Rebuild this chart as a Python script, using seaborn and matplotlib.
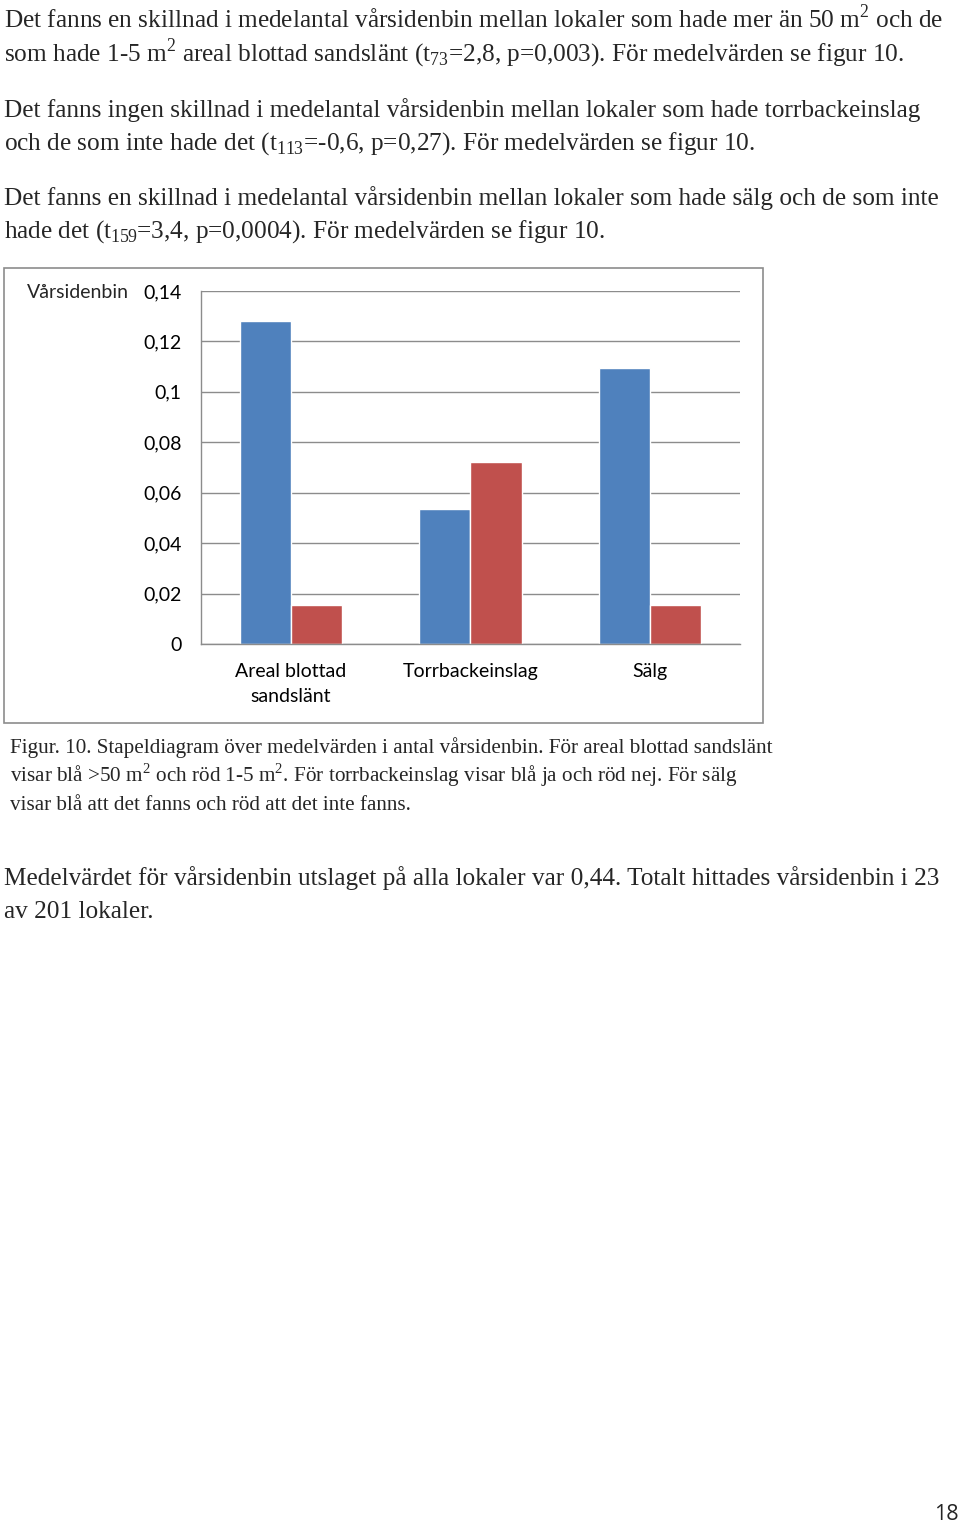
import pandas as pd
import matplotlib
matplotlib.use("Agg")
import matplotlib.pyplot as plt
from matplotlib.patches import Rectangle
from matplotlib.ticker import FuncFormatter, FixedLocator
import seaborn as sns

# Data
categories = ["Areal blottad\nsandslänt", "Torrbackeinslag", "Sälg"]
blue_values = [0.128, 0.0535, 0.1095]
red_values = [0.0155, 0.072, 0.0155]
y_ticks = [0, 0.02, 0.04, 0.06, 0.08, 0.1, 0.12, 0.14]

df = pd.DataFrame({
    "kategori": categories * 2,
    "medel": blue_values + red_values,
    "grupp": ["blå"] * 3 + ["röd"] * 3,
})

sns.set_theme(style="white")
plt.rcParams["font.family"] = ["Liberation Serif", "DejaVu Serif"]
plt.rcParams["mathtext.fontset"] = "custom"
plt.rcParams["mathtext.rm"] = "Liberation Serif"

W, H = 960, 1523
fig = plt.figure(figsize=(W / 100, H / 100), dpi=100)
fig.patch.set_facecolor("white")


def px(x, y):
    return x / W, 1 - y / H


body = 18.2
sub = r"$_{\mathregular{%s}}$"
sup = r"$^{\mathregular{2}}$"
lines = [
    (28, "Det fanns en skillnad i medelantal vårsidenbin mellan lokaler som hade mer än 50 m" + sup + " och de"),
    (61, "som hade 1-5 m" + sup + " areal blottad sandslänt (t" + sub % "73" + "=2,8, p=0,003). För medelvärden se figur 10."),
    (117, "Det fanns ingen skillnad i medelantal vårsidenbin mellan lokaler som hade torrbackeinslag"),
    (150, "och de som inte hade det (t" + sub % "113" + "=-0,6, p=0,27). För medelvärden se figur 10."),
    (205, "Det fanns en skillnad i medelantal vårsidenbin mellan lokaler som hade sälg och de som inte"),
    (238, "hade det (t" + sub % "159" + "=3,4, p=0,0004). För medelvärden se figur 10."),
]
for y, t in lines:
    fig.text(*px(4, y), t, fontsize=body, va="baseline", ha="left")

cap = 15.2
caption = [
    (753, "Figur. 10. Stapeldiagram över medelvärden i antal vårsidenbin. För areal blottad sandslänt"),
    (782, "visar blå >50 m" + sup + " och röd 1-5 m" + sup + ". För torrbackeinslag visar blå ja och röd nej. För sälg"),
    (810, "visar blå att det fanns och röd att det inte fanns."),
]
for y, t in caption:
    fig.text(*px(10, y), t, fontsize=cap, va="baseline", ha="left")

fig.text(*px(4, 885), "Medelvärdet för vårsidenbin utslaget på alla lokaler var 0,44. Totalt hittades vårsidenbin i 23",
         fontsize=body, va="baseline", ha="left")
fig.text(*px(4, 918), "av 201 lokaler.", fontsize=body, va="baseline", ha="left")
fig.text(*px(959, 1520), "18", fontsize=15.5, va="baseline", ha="right", family=["Open Sans", "DejaVu Sans"])

# chart frame
fig.patches.append(Rectangle(px(4, 723), 759 / W, 455 / H, transform=fig.transFigure,
                             fill=False, edgecolor="#8c8c8c", linewidth=1.2))

# chart
ax = fig.add_axes([201 / W, 1 - 644 / H, 539 / W, 353 / H])
sns.barplot(data=df, x="kategori", y="medel", hue="grupp",
            palette=["#4F81BD", "#C0504D"], saturation=1, width=0.57,
            legend=False, ax=ax)
ax.set_ylim(0, 0.14)
ax.set_xlim(-0.5, 2.5)
ax.yaxis.set_major_locator(FixedLocator(y_ticks))
ax.yaxis.set_major_formatter(FuncFormatter(lambda v, p: f"{v:g}".replace(".", ",")))
ax.grid(axis="y", color="#8c8c8c", linewidth=1)
ax.set_axisbelow(True)
for s in ["top", "right"]:
    ax.spines[s].set_visible(False)
for s in ["left", "bottom"]:
    ax.spines[s].set_color("#8c8c8c")
    ax.spines[s].set_linewidth(1)

chart_font = ["Lato", "DejaVu Sans"]
ax.tick_params(axis="y", length=3, color="#8c8c8c", width=1, pad=11, labelsize=14)
ax.tick_params(axis="x", length=0, pad=14, labelsize=14)
ax.set_xticks(range(len(categories)))
ax.set_xticklabels(categories, linespacing=1.55)
ax.set_xticks([-0.5, 0.5, 1.5, 2.5], minor=True)
ax.tick_params(axis="x", which="minor", length=6, color="#8c8c8c", width=1)
for lab in ax.get_xticklabels() + ax.get_yticklabels():
    lab.set_family(chart_font)
    lab.set_color("black")
ax.set_xlabel("")
ax.set_ylabel("")
fig.text(*px(27, 298), "Vårsidenbin", fontsize=14, family=chart_font, va="baseline", ha="left")

fig.savefig("out.png", dpi=100)
